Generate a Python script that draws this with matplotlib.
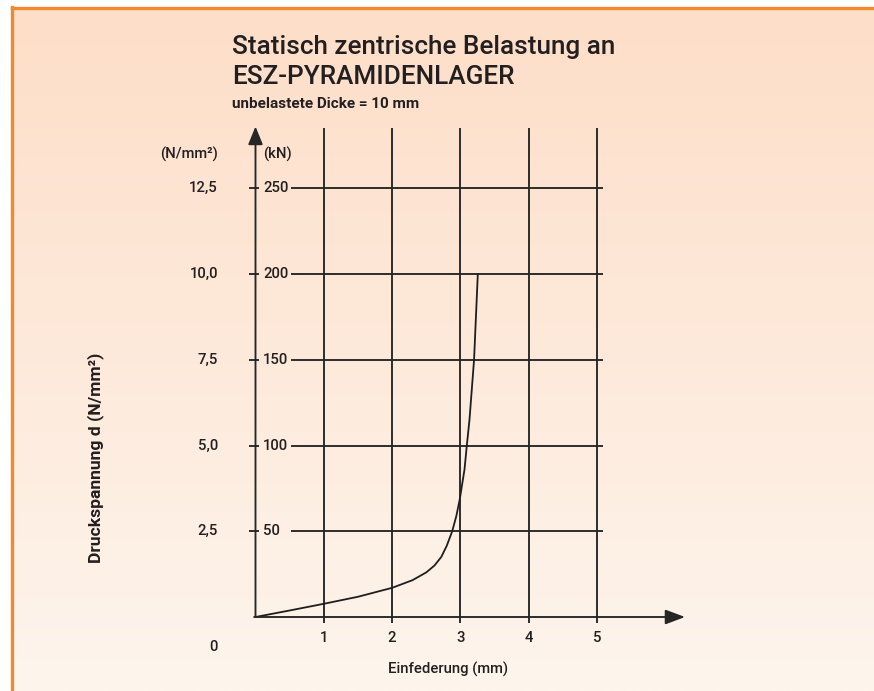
import numpy as np
import matplotlib
matplotlib.use("Agg")
import matplotlib.pyplot as plt

# ---- data ----
defl_mm = [0.0, 0.25, 0.5, 1.0, 1.5, 2.0, 2.3, 2.5, 2.62, 2.72, 2.8, 2.88, 2.94, 2.99,
           3.06, 3.094, 3.133, 3.20, 3.255]
load_kN = [0.0, 1.9, 3.8, 7.7, 11.8, 17.0, 21.5, 26.0, 30.0, 35.0, 41.5, 50.0, 58.8, 68.5,
           86.0, 100.0, 115.0, 150.0, 200.0]
x_ticks = [1, 2, 3, 4, 5]
kN_ticks = [50, 100, 150, 200, 250]
kN_labels = ["50", "100", "150", "200", "250"]
nmm_labels = ["2,5", "5,0", "7,5", "10,0", "12,5"]

W, H = 874, 691
fig = plt.figure(figsize=(W / 100, H / 100), dpi=100, facecolor="white")

# background panel with vertical gradient
bg = fig.add_axes([11 / W, 0, 1 - 11 / W, 1 - 7 / H])
top = np.array([253, 222, 200]) / 255
bot = np.array([254, 245, 237]) / 255
t = np.linspace(0, 1, 256)[:, None]
grad = top[None, :] * (1 - t) + bot[None, :] * t
bg.imshow(grad[:, None, :], aspect="auto", extent=[0, 1, 0, 1], origin="upper")
bg.set_xlim(0, 1); bg.set_ylim(0, 1)
bg.axis("off")
border = "#F08A2C"
fig.add_artist(plt.Line2D([11.5 / W, 11.5 / W], [0, 1 - 7 / H], color=border, lw=2.4))
fig.add_artist(plt.Line2D([11.5 / W, 1], [1 - 7.5 / H, 1 - 7.5 / H], color=border, lw=2.4))

# main axes covering whole figure, data coords mapped to pixels
x0, sx = 255.5, 68.3
y0, sy = 617.0, 1.715
ax = fig.add_axes([0, 0, 1, 1])
ax.set_xlim((0 - x0) / sx, (W - x0) / sx)
ax.set_ylim((y0 - H) / sy, y0 / sy)
ax.axis("off")
ax.patch.set_alpha(0)

lc = "#262626"
lw = 1.35
# vertical grid lines
for xv in x_ticks:
    ax.plot([xv, xv], [-3.5, 285], color=lc, lw=lw, solid_capstyle="butt")
# horizontal grid lines + short ticks
for yv in kN_ticks:
    ax.plot([0.52, 5.09], [yv, yv], color=lc, lw=lw, solid_capstyle="butt")
    ax.plot([-0.088, 0.044], [yv, yv], color=lc, lw=lw, solid_capstyle="butt")

# axes with arrows
ax.annotate("", xy=(0, 286), xytext=(0, 0),
            arrowprops=dict(arrowstyle="-|>,head_length=1.1,head_width=0.45", color=lc, lw=lw,
                            shrinkA=0, shrinkB=0))
ax.annotate("", xy=((685 - x0) / sx, 0), xytext=(-0.02, 0),
            arrowprops=dict(arrowstyle="-|>,head_length=1.2,head_width=0.45", color=lc, lw=lw,
                            shrinkA=0, shrinkB=0))

# curve
ax.plot(defl_mm, load_kN, color="#1e1e1e", lw=1.3, solid_joinstyle="round")

fam = ["Roboto", "DejaVu Sans"]
tc = "#231f20"
fs = 10.7
wt = "medium"
xl = (218 - x0) / sx
xk = (263 - x0) / sx
for yv, kl, nl in zip(kN_ticks, kN_labels, nmm_labels):
    ax.text(xl, yv, nl, ha="right", va="center", fontsize=fs, family=fam, color=tc, fontweight=wt)
    ax.text(xk, yv, kl, ha="left", va="center", fontsize=fs, family=fam, color=tc, fontweight=wt)
ax.text(xl, (y0 - 647) / sy, "0", ha="right", va="center", fontsize=fs, family=fam, color=tc, fontweight=wt)
ax.text(xl, (y0 - 154) / sy, "(N/mm²)", ha="right", va="center", fontsize=fs, family=fam, color=tc, fontweight=wt)
ax.text(xk, (y0 - 154) / sy, "(kN)", ha="left", va="center", fontsize=fs, family=fam, color=tc, fontweight=wt)
for xv in x_ticks:
    ax.text(xv, (y0 - 638) / sy, str(xv), ha="center", va="center", fontsize=fs, family=fam,
            color=tc, fontweight=wt)

ax.text((448 - x0) / sx, (y0 - 669) / sy, "Einfederung (mm)", ha="center", va="center",
        fontsize=fs, family=fam, color=tc, fontweight=wt)
ax.text((96 - x0) / sx, (y0 - 458) / sy, "Druckspannung d (N/mm²)", ha="center", va="center",
        rotation=90, fontsize=12.6, family=fam, color=tc, fontweight="bold")

fig.text(232 / W, 1 - 47 / H, "Statisch zentrische Belastung an", ha="left", va="center",
         fontsize=18.8, family=fam, color=tc, fontweight=wt)
fig.text(232 / W, 1 - 77 / H, "ESZ-PYRAMIDENLAGER", ha="left", va="center",
         fontsize=18.8, family=fam, color=tc, fontweight=wt)
fig.text(232 / W, 1 - 104 / H, "unbelastete Dicke = 10 mm", ha="left", va="center",
         fontsize=11, family=fam, color=tc, fontweight="bold")

fig.savefig("out.png", dpi=100, facecolor="white")
